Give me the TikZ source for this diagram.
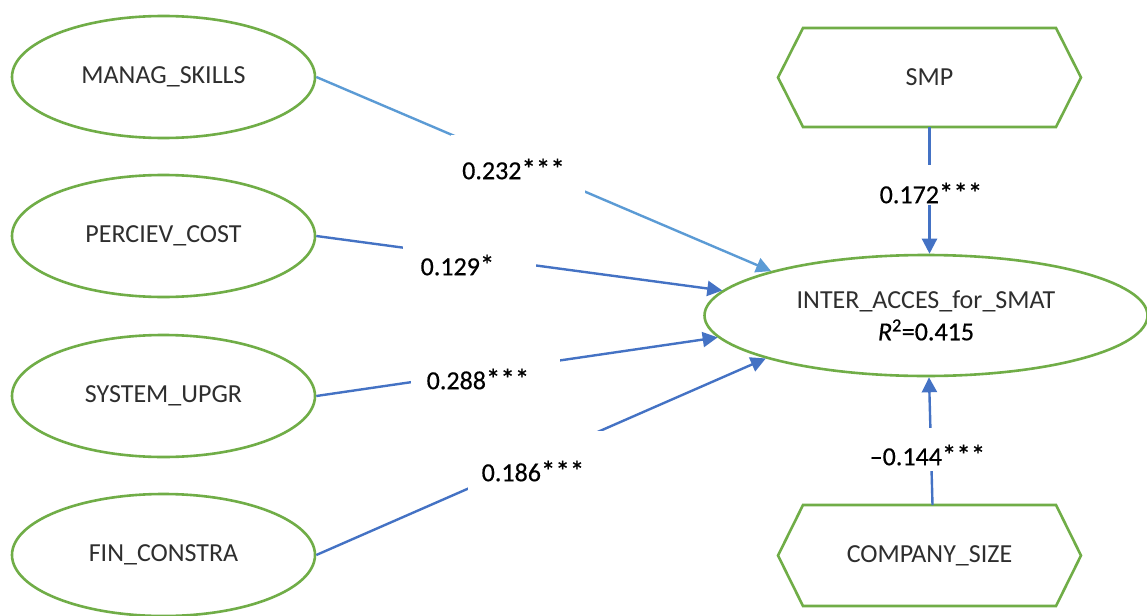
\documentclass[tikz,border=0pt]{standalone}
\usepackage{fontspec}
\setmainfont{Carlito}
\newfontfamily\lblfont[FakeBold=0.5]{Carlito}
\usetikzlibrary{shapes.geometric,arrows.meta}
\definecolor{grn}{HTML}{70AD47}
\definecolor{dblue}{HTML}{4472C4}
\definecolor{lblue}{HTML}{5B9BD5}
\newcommand{\stars}[1]{{\fontsize{29}{32}\selectfont #1}}
\begin{document}
\begin{tikzpicture}[x=1pt,y=-1pt,
  lat/.style={ellipse, draw=grn, line width=2.6pt, minimum width=303pt, minimum height=122pt,
    inner sep=0pt, font=\fontsize{26}{32}\selectfont, text=black!82},
  hexbox/.style={rectangle, minimum width=253pt, minimum height=99pt, inner sep=0pt, outer sep=0pt,
    font=\fontsize{26}{32}\selectfont, text=black!82},
  hexline/.style={draw=grn, line width=2.6pt, line join=miter},
  conn/.style={line width=2.4pt, draw=dblue, -{Triangle[length=15pt,width=15pt]}},
  gapbox/.style={fill=white, inner sep=0pt, outer sep=0pt},
  lbl/.style={font=\lblfont\fontsize{26}{32}\selectfont, text=black, inner sep=0pt}
]
\useasboundingbox (0,0) rectangle (1147,615);
\fill[white] (0,0) rectangle (1147,615);

% latent variables
\node[lat] (ms) at (163.5,77) {MANAG\_SKILLS};
\node[lat] (pc) at (163.5,236) {PERCIEV\_COST};
\node[lat] (su) at (163.5,396) {SYSTEM\_UPGR};
\node[lat] (fc) at (163.5,555) {FIN\_CONSTRA};
\node[lat, minimum width=443pt, minimum height=121pt, align=center] (c) at (926,315.5)
  {INTER\_ACCES\_for\_SMAT\\[0pt]{\lblfont\color{black}\textit{R}\textsuperscript{2}=0.415}};

% control variables (hexagons)
\node[hexbox] (smp) at (929.5,77.5) {SMP};
\draw[hexline] (smp.north west) -- (smp.north east) -- ([xshift=25pt]smp.east) -- (smp.south east)
  -- (smp.south west) -- ([xshift=-25pt]smp.west) -- cycle;
\node[hexbox, minimum height=101pt] (cs) at (929.5,555.5) {COMPANY\_SIZE};
\draw[hexline] (cs.north west) -- (cs.north east) -- ([xshift=25pt]cs.east) -- (cs.south east)
  -- (cs.south west) -- ([xshift=-25pt]cs.west) -- cycle;

% paths
\draw[conn, draw=lblue, -{Triangle[length=15pt,width=15pt,fill=lblue]}] (ms.east) -- (c.164.8);
\draw[conn] (pc.east) -- (c.173.5);
\draw[conn] (su.east) -- (c.186.8);
\draw[conn] (fc.east) -- (c.195.9);
\draw[conn] (smp.south) -- (smp.south |- c.north);
\draw[conn] ([xshift=3pt]cs.north) -- ([xshift=3pt]c.south);

% coefficient labels
\node[gapbox, minimum width=134pt, minimum height=58pt,
  label={[lbl, xshift=-4.5pt, yshift=-5pt]center:0.232\stars{***}}] (l1) at (518,164) {};
\node[gapbox, minimum width=133pt, minimum height=44pt,
  label={[lbl, xshift=-12pt, yshift=-7pt]center:0.129\stars{*}}] (l2) at (469.5,258) {};
\node[gapbox, minimum width=149pt, minimum height=44pt,
  label={[lbl, xshift=-7.5pt, yshift=-7pt]center:0.288\stars{***}}] (l3) at (485.5,372) {};
\node[gapbox, minimum width=137pt, minimum height=59pt,
  label={[lbl, xshift=-3.5pt, yshift=-10.5pt]center:0.186\stars{***}}] (l4) at (536.5,460.5) {};
\node[gapbox, minimum width=120pt, minimum height=40pt,
  label={[lbl, xshift=1.5pt, yshift=-8pt]center:0.172\stars{***}}] (l5) at (929.5,185) {};
\node[gapbox, minimum width=124pt, minimum height=43pt,
  label={[lbl, xshift=-3.5pt, yshift=-5.5pt]center:–0.144\stars{***}}] (l6) at (931,449.5) {};
\end{tikzpicture}
\end{document}
